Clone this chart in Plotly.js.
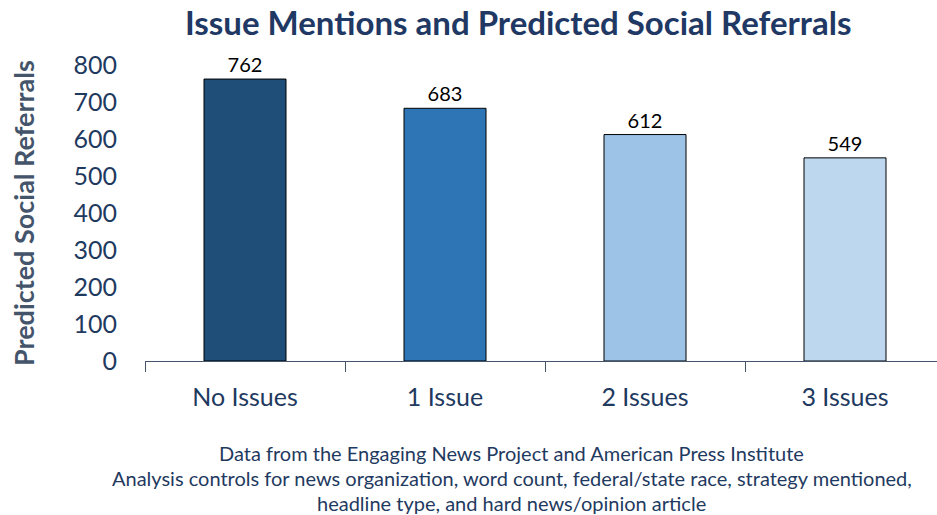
<!DOCTYPE html>
<html><head><meta charset="utf-8">
<script src="https://cdn.plot.ly/plotly-3.0.1.min.js"></script>
<style>html,body{margin:0;padding:0;background:#fff}#chart{width:937px;height:515px}</style>
</head><body><div id="chart"></div>
<script>
const categories = ["No Issues", "1 Issue", "2 Issues", "3 Issues"];
const referrals = [762, 683, 612, 549];
const barColors = ["#1F4E79", "#2E75B6", "#9DC3E6", "#BDD7EE"];
const yTicks = [0, 100, 200, 300, 400, 500, 600, 700, 800];
const footerLines = [
  "Data from the Engaging News Project and American Press Institute",
  "Analysis controls for news organization, word count, federal/state race, strategy mentioned,",
  "headline type, and hard news/opinion article"
];

const navy = "#1F3A5F";
const font = "Lato, 'Open Sans', sans-serif";

const trace = {
  type: "bar",
  x: categories,
  y: referrals,
  width: 0.41,
  marker: {color: barColors, line: {color: "#000", width: 1}},
  text: referrals.map(String),
  textposition: "outside",
  textfont: {family: font, size: 20, color: "#000"},
  cliponaxis: false,
  hoverinfo: "x+y"
};

const layout = {
  width: 937, height: 515,
  margin: {l: 145, r: 0, t: 65, b: 154},
  paper_bgcolor: "#fff", plot_bgcolor: "#fff",
  showlegend: false,
  title: {text: "<b>Issue Mentions and Predicted Social Referrals</b>",
          font: {family: font, size: 33, color: "#1F3864"},
          x: 0.553, xanchor: "center", y: 0.955, yanchor: "middle"},
  xaxis: {
    range: [-0.5, 3.46], fixedrange: true,
    showline: true, linecolor: "#44546A", linewidth: 1,
    ticks: "outside", tickson: "boundaries", ticklen: 10, tickcolor: "#44546A",
    tickfont: {family: font, size: 25, color: navy},
    ticklabelstandoff: 14,
    showgrid: false, zeroline: false
  },
  yaxis: {
    range: [0, 800], fixedrange: true,
    tickvals: yTicks, ticktext: yTicks.map(String),
    tickfont: {family: font, size: 25, color: navy},
    showline: false, showgrid: false, zeroline: false,
    ticks: "", ticklabelstandoff: 27
  },
  annotations: [
    {text: "<b>Predicted Social Referrals</b>", xref: "paper", yref: "paper",
     x: -0.154, y: 0.5, xanchor: "center", yanchor: "middle", textangle: -90,
     showarrow: false, font: {family: font, size: 27, color: "#44546A"}},
    ...footerLines.map((t, i) => ({
      text: t, xref: "paper", yref: "paper",
      x: 0.463, y: -0.31 - i * 0.0845, xanchor: "center", yanchor: "middle",
      showarrow: false, font: {family: font, size: 20, color: navy}
    }))
  ]
};

Plotly.newPlot("chart", [trace], layout, {displayModeBar: false, staticPlot: true});
</script></body></html>
